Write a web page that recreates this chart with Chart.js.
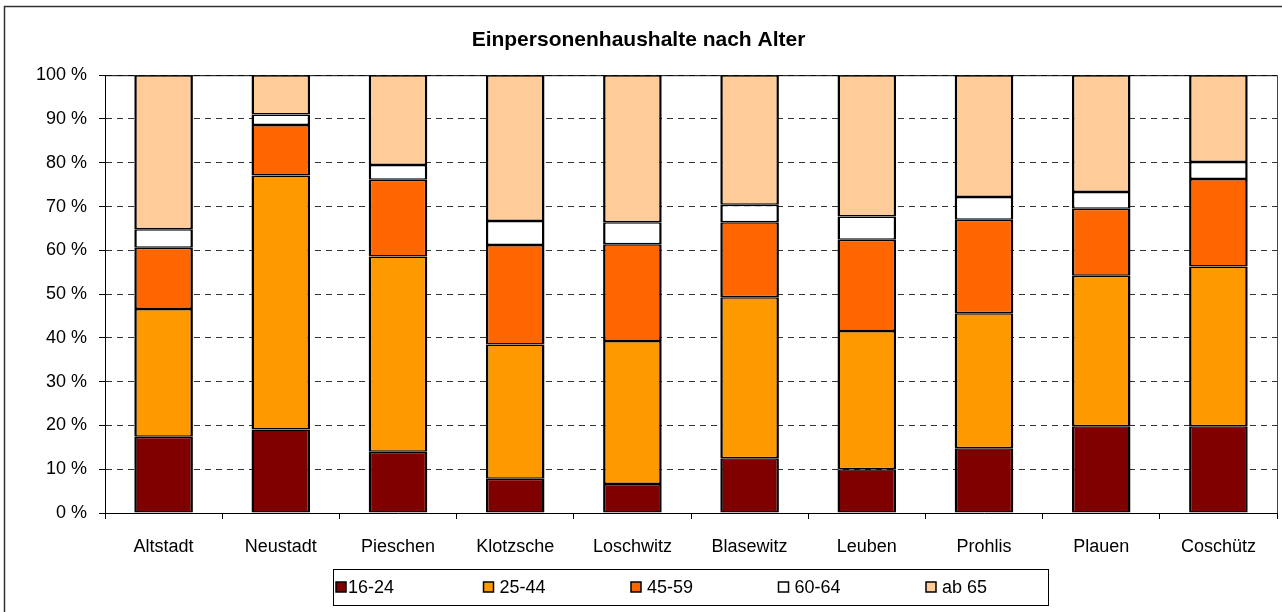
<!DOCTYPE html>
<html>
<head>
<meta charset="utf-8">
<title>Einpersonenhaushalte nach Alter</title>
<script src="https://cdn.jsdelivr.net/npm/chart.js@4"></script>
<style>
    body { margin: 0; background: #fff; }
    canvas { display: block; }
</style>
</head>
<body>
<canvas id="ageChart" width="1282" height="612"></canvas>
<script>
// Stadtteile and shares of single-person households per age group (%)
const districts = ['Altstadt', 'Neustadt', 'Pieschen', 'Klotzsche', 'Loschwitz', 'Blasewitz', 'Leuben', 'Prohlis', 'Plauen', 'Coschütz'];
const age16to24 = [17.4, 19.1, 14.0, 7.8, 6.6, 12.5, 10.0, 14.8, 19.8, 19.8];
const age25to44 = [29.2, 58.0, 44.6, 30.7, 32.7, 36.8, 31.6, 30.8, 34.4, 36.5];
const age45to59 = [14.0, 11.5, 17.5, 22.7, 22.1, 17.1, 20.8, 21.4, 15.3, 20.0];
const age60to64 = [4.2, 2.4, 3.4, 5.5, 5.0, 4.0, 5.3, 5.2, 3.8, 3.9];
const age65plus = [35.2, 9.0, 20.5, 33.3, 33.6, 29.6, 32.3, 27.8, 26.7, 19.8];
const groupNames = ['16-24', '25-44', '45-59', '60-64', 'ab 65'];
const groupColors = ['#800000', '#FF9900', '#FF6600', '#FFFFFF', '#FFCC99'];

const FONT = "'Liberation Sans', Arial, sans-serif";

function makeDataset(i, values) {
    return {
        label: groupNames[i],
        data: values,
        backgroundColor: groupColors[i],
        borderColor: '#000',
        // thin top/bottom so stacked segments share a ~3px separator
        borderWidth: { top: 1.5, bottom: 1.5, left: 2.5, right: 2.5 },
        borderSkipped: false,
        categoryPercentage: 1,
        barPercentage: 0.5
    };
}

// frame around the whole chart plus the top/right edge of the plot area
const framePlugin = {
    id: 'frame',
    beforeDatasetsDraw(chart) {
        const ctx = chart.ctx;
        const area = chart.chartArea;
        ctx.save();
        ctx.strokeStyle = '#000';
        ctx.lineWidth = 1;
        ctx.beginPath();
        ctx.moveTo(area.left, area.top + 0.5);
        ctx.lineTo(area.right, area.top + 0.5);
        ctx.stroke();
        ctx.strokeStyle = '#444';
        ctx.beginPath();
        ctx.moveTo(area.right + 0.5, area.top);
        ctx.lineTo(area.right + 0.5, area.bottom);
        ctx.stroke();
        ctx.restore();
    },
    afterDraw(chart) {
        const ctx = chart.ctx;
        ctx.save();
        ctx.strokeStyle = '#333';
        ctx.lineWidth = 1.5;
        ctx.beginPath();
        ctx.moveTo(4.5, chart.height + 2);
        ctx.lineTo(4.5, 6.5);
        ctx.lineTo(chart.width + 2, 6.5);
        ctx.stroke();
        ctx.restore();
    }
};

// boxed legend below the axis with evenly spaced entries
const boxLegend = {
    id: 'boxLegend',
    afterDraw(chart) {
        const ctx = chart.ctx;
        const left = 333, top = 569, width = 715, height = 36;
        const step = 147.5;
        const cy = top + height / 2;
        ctx.save();
        ctx.strokeStyle = '#000';
        ctx.lineWidth = 1;
        ctx.strokeRect(left + 0.5, top + 0.5, width, height);
        ctx.font = '18px ' + FONT;
        ctx.textBaseline = 'middle';
        chart.data.datasets.forEach((ds, i) => {
            const x = left + 3 + i * step;
            ctx.fillStyle = ds.backgroundColor;
            ctx.fillRect(x, cy - 5, 10, 10);
            ctx.lineWidth = 1.5;
            ctx.strokeStyle = '#000';
            ctx.strokeRect(x, cy - 5, 10, 10);
            ctx.fillStyle = '#000';
            ctx.fillText(ds.label, x + (i === 0 ? 12 : 16), cy + 1);
        });
        ctx.restore();
    }
};

const ctx = document.getElementById('ageChart').getContext('2d');
new Chart(ctx, {
    type: 'bar',
    data: {
        labels: districts,
        datasets: [
            makeDataset(0, age16to24),
            makeDataset(1, age25to44),
            makeDataset(2, age45to59),
            makeDataset(3, age60to64),
            makeDataset(4, age65plus)
        ]
    },
    options: {
        responsive: false,
        animation: false,
        layout: {
            padding: { left: 0, right: 5, top: 0, bottom: 0 }
        },
        plugins: {
            legend: { display: false },
            tooltip: { enabled: false },
            title: {
                display: true,
                text: 'Einpersonenhaushalte nach Alter',
                color: '#000',
                font: { family: FONT, size: 21, weight: 'bold' },
                padding: { top: 28, bottom: 22 }
            }
        },
        scales: {
            x: {
                stacked: true,
                grid: {
                    display: true,
                    drawOnChartArea: false,
                    offset: true,
                    tickLength: 6,
                    tickColor: '#000'
                },
                border: { display: true, color: '#000', width: 1 },
                ticks: {
                    color: '#000',
                    padding: 17,
                    maxRotation: 0,
                    font: { family: FONT, size: 18 }
                },
                afterFit(scale) {
                    scale.height = 99;
                }
            },
            y: {
                stacked: true,
                min: 0,
                max: 100,
                grid: {
                    color: '#333',
                    tickBorderDash: [],
                    tickLength: 6,
                    tickColor: '#000'
                },
                border: { display: true, color: '#000', width: 1, dash: [6, 5] },
                ticks: {
                    stepSize: 10,
                    color: '#000',
                    padding: 12,
                    font: { family: FONT, size: 18 },
                    callback: function(value) {
                        return value + ' %';
                    }
                },
                afterFit(scale) {
                    scale.width = 105;
                }
            }
        }
    },
    plugins: [framePlugin, boxLegend]
});
</script>
</body>
</html>
